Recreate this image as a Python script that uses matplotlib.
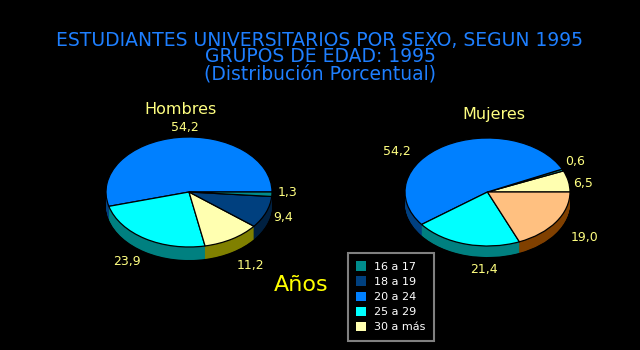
import numpy as np
import matplotlib
matplotlib.use("Agg")
import matplotlib.pyplot as plt
import matplotlib.patches as mpatches

# ---- data ----
groups = ["16 a 17", "18 a 19", "20 a 24", "25 a 29", "30 a más"]
hombres_labels = ["20 a 24", "25 a 29", "30 a más", "18 a 19", "16 a 17"]
hombres_values = [54.2, 23.9, 11.2, 9.4, 1.3]
mujeres_labels = ["30 a más", "16 a 17", "20 a 24", "25 a 29", "18 a 19"]
mujeres_values = [6.5, 0.6, 54.2, 21.4, 19.0]

title_lines = ["ESTUDIANTES UNIVERSITARIOS POR SEXO, SEGUN 1995",
               "GRUPOS DE EDAD: 1995",
               "(Distribución Porcentual)"]

colors = {"16 a 17": "#008c8c", "18 a 19": "#00407f", "20 a 24": "#0080ff",
          "25 a 29": "#00ffff", "30 a más": "#ffffb0"}
# Mujeres 18 a 19 slice is drawn in an orange dither in the original
mujeres_colors = dict(colors)
mujeres_colors["18 a 19"] = "#ffc080"
wall_colors = {"16 a 17": "#004848", "18 a 19": "#002040", "20 a 24": "#004080",
               "25 a 29": "#008080", "30 a más": "#808000"}
mujeres_wall = dict(wall_colors)
mujeres_wall["18 a 19"] = "#804000"

W, H = 640, 350
fig = plt.figure(figsize=(6.4, 3.5), dpi=100, facecolor="black")
FONT = "DejaVu Sans"
YEL = "#ffff80"


def px(x, y):
    return x / W, 1 - y / H


def pie3d(left, right, top, bottom_face, depth, labels, values, cols, wcols):
    height = bottom_face - top + depth
    ax = fig.add_axes([left / W, 1 - (top + height) / H, (right - left) / W, height / H])
    ax.set_facecolor("black")
    ry = (bottom_face - top) / 2
    d = depth / ry
    for k in np.linspace(d, 0.02, 25):
        ax.pie(values, colors=[wcols[l] for l in labels], startangle=0,
               counterclock=True, center=(0, -k),
               wedgeprops=dict(edgecolor="none", linewidth=0))
    ax.pie(values, colors=[cols[l] for l in labels], startangle=0,
           counterclock=True, center=(0, 0),
           wedgeprops=dict(edgecolor="black", linewidth=0.9))
    ax.set_aspect("auto")
    ax.set_xlim(-1, 1)
    ax.set_ylim(-1 - d, 1)
    ax.set_axis_off()
    return ax


pie3d(106, 272, 137, 247, 13, hombres_labels, hombres_values, colors, wall_colors)
pie3d(405, 570, 138, 246, 11, mujeres_labels, mujeres_values, mujeres_colors, mujeres_wall)

# title (one multi-line text)
fig.text(*px(320, 57), "\n".join(title_lines), color="#1e7fff", fontsize=13.5,
         ha="center", va="center", family=FONT, linespacing=0.85, multialignment="center")

fig.text(*px(181, 110), "Hombres", color=YEL, fontsize=11.5, ha="center",
         va="center", family=FONT)
fig.text(*px(494, 114), "Mujeres", color=YEL, fontsize=11.5, ha="center",
         va="center", family=FONT)


def fmt(v):
    return f"{v:.1f}".replace(".", ",")


h_pos = {54.2: (185, 128), 1.3: (288, 193), 9.4: (283, 218), 11.2: (250, 265), 23.9: (127, 262)}
for v in hombres_values:
    fig.text(*px(*h_pos[v]), fmt(v), color=YEL, fontsize=9, ha="center",
             va="center", family=FONT)
m_pos = {54.2: (397, 151), 0.6: (575, 161), 6.5: (583, 183), 19.0: (585, 238), 21.4: (484, 270)}
for v in mujeres_values:
    fig.text(*px(*m_pos[v]), fmt(v), color=YEL, fontsize=9, ha="center",
             va="center", family=FONT)

fig.text(*px(301, 285), "Años", color="#ffff00", fontsize=16, ha="center",
         va="center", family=FONT)

handles = [mpatches.Patch(facecolor=colors[g], edgecolor="none", label=g) for g in groups]
leg = fig.legend(handles=handles, loc="upper left", bbox_to_anchor=px(348, 253),
                 borderaxespad=0, frameon=True, fancybox=False, facecolor="black",
                 edgecolor="#808080", framealpha=1,
                 labelcolor="white", prop=dict(family=FONT, size=8),
                 handlelength=0.9, handleheight=0.9, labelspacing=0.42,
                 borderpad=0.75, handletextpad=0.7)
leg.get_frame().set_linewidth(1.5)

fig.savefig("out.png", dpi=100, facecolor="black")
